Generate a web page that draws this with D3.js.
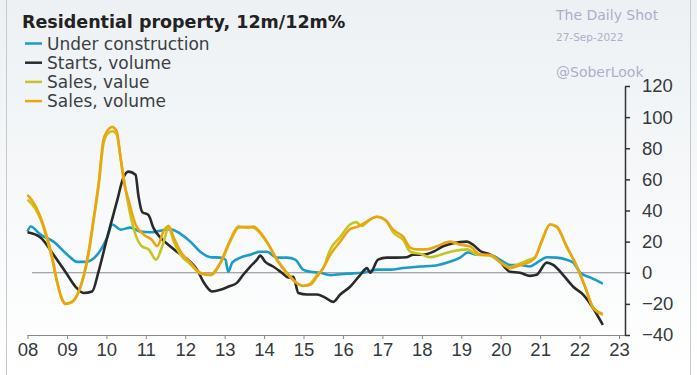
<!DOCTYPE html>
<html>
<head>
<meta charset="utf-8">
<script src="https://cdn.jsdelivr.net/npm/d3@7"></script>
<style>
  body { margin: 0; background: #fff; }
  svg { display: block; font-family: "DejaVu Sans", sans-serif; }
</style>
</head>
<body>
<div id="chart"></div>
<script>
// x ticks (years) and y ticks
var years = d3.range(2008, 2024);
var yTicks = [-40, -20, 0, 20, 40, 60, 80, 100, 120];

// [decimal year, % y/y]
var underConstruction = [
  [2008.0, 26.5], [2008.08, 29.7], [2008.33, 24.5], [2008.66, 20], [2009.01, 11.6],
  [2009.26, 7], [2009.47, 7], [2009.77, 11.6], [2010.02, 22.6], [2010.15, 31],
  [2010.36, 27.7], [2010.61, 29], [2010.86, 26.5], [2011.12, 26], [2011.37, 27],
  [2011.62, 28], [2011.88, 25], [2012.13, 20], [2012.38, 13.5], [2012.64, 10],
  [2012.89, 9.7], [2013.02, 8.4], [2013.09, 0.6], [2013.19, 6.5], [2013.4, 9.7],
  [2013.65, 11.6], [2013.9, 13.5], [2014.07, 13.5], [2014.33, 9.7], [2014.58, 9.7],
  [2014.79, 8.4], [2014.99, 2], [2015.17, 0.6], [2015.42, 0], [2015.68, -1.5],
  [2016.1, -0.6], [2016.51, 0], [2016.86, 2], [2017.2, 2], [2017.53, 3],
  [2017.96, 4], [2018.29, 4.5], [2018.63, 6.5], [2018.97, 9.7], [2019.17, 13],
  [2019.39, 11.6], [2019.73, 11.6], [2019.98, 8.4], [2020.24, 5], [2020.49, 5],
  [2020.74, 4], [2020.95, 7], [2021.17, 10], [2021.42, 9.7], [2021.67, 8.4],
  [2021.84, 6.5], [2022.02, 0], [2022.27, -3], [2022.59, -7]
];

var startsVolume = [
  [2008.0, 26], [2008.33, 22.6], [2008.66, 11.6], [2009.01, -1.3], [2009.22, -9],
  [2009.42, -13], [2009.64, -12], [2009.8, 0.6], [2010.02, 22.6], [2010.27, 46],
  [2010.43, 61], [2010.56, 65], [2010.74, 63], [2010.81, 50], [2010.91, 39],
  [2011.07, 37], [2011.19, 29], [2011.37, 22.6], [2011.57, 18], [2011.79, 13.5],
  [2012.13, 7], [2012.3, 2], [2012.46, -5.8], [2012.68, -12], [2012.89, -11],
  [2013.09, -9], [2013.31, -6.5], [2013.47, -1.3], [2013.65, 4], [2013.82, 8.4],
  [2013.9, 11], [2014.03, 7], [2014.23, 4], [2014.45, 0], [2014.61, -3],
  [2014.74, -2.6], [2014.87, -13], [2015.09, -14], [2015.34, -14], [2015.55, -16],
  [2015.75, -18.7], [2015.93, -14], [2016.18, -9], [2016.44, -1.3], [2016.61, 3],
  [2016.69, 0], [2016.89, 8.4], [2017.11, 9.7], [2017.37, 9.7], [2017.62, 10],
  [2017.78, 11.6], [2018.03, 11.6], [2018.29, 13.5], [2018.54, 17], [2018.79, 19],
  [2019.14, 20], [2019.3, 18], [2019.48, 14], [2019.73, 11.6], [2019.98, 7],
  [2020.24, 0.6], [2020.49, 0], [2020.74, -2], [2020.91, -1.3], [2021.17, 6.5],
  [2021.33, 5], [2021.58, -1.3], [2021.84, -9], [2022.09, -14], [2022.34, -22.6],
  [2022.59, -33.5]
];

var salesValue = [
  [2008.0, 47], [2008.2, 41], [2008.37, 32], [2008.5, 21], [2008.63, 8],
  [2008.75, -6], [2008.88, -17], [2008.96, -20], [2009.13, -19], [2009.3, -12],
  [2009.43, -2], [2009.55, 12], [2009.68, 34], [2009.81, 57], [2009.92, 82],
  [2010.02, 89], [2010.15, 91], [2010.26, 89], [2010.36, 74], [2010.44, 61],
  [2010.61, 37], [2010.74, 24.5], [2010.9, 17], [2011.08, 14.8], [2011.26, 8.4],
  [2011.43, 18], [2011.58, 28.8], [2011.71, 20], [2011.88, 11.6], [2012.13, 5.5],
  [2012.38, -0.5], [2012.64, -1.5], [2012.89, 6], [2013.14, 20], [2013.35, 29],
  [2013.57, 29.5], [2013.73, 29], [2013.9, 25.5], [2014.07, 19.5], [2014.33, 8],
  [2014.58, -0.5], [2014.79, -6], [2014.99, -8.5], [2015.17, -7], [2015.34, -1.5],
  [2015.5, 3], [2015.68, 15], [2015.93, 23], [2016.18, 31], [2016.33, 32.5],
  [2016.48, 30], [2016.63, 33], [2016.86, 36], [2017.11, 33], [2017.27, 26],
  [2017.53, 21], [2017.71, 13.5], [2017.97, 12], [2018.22, 10], [2018.48, 11.6],
  [2018.81, 14], [2019.15, 15], [2019.4, 11.6], [2019.73, 11], [2019.98, 7],
  [2020.24, 3.5], [2020.49, 6], [2020.74, 8.5], [2020.87, 10], [2021.04, 20.5],
  [2021.25, 31], [2021.42, 29.5], [2021.67, 17], [2021.93, 4], [2022.14, -9],
  [2022.34, -22], [2022.59, -27]
];

var salesVolume = [
  [2008.0, 50], [2008.2, 43], [2008.37, 33], [2008.5, 22.6], [2008.63, 9.7],
  [2008.75, -5.6], [2008.88, -17.4], [2008.96, -20], [2009.13, -18.5], [2009.3, -12],
  [2009.43, -1.3], [2009.55, 13.7], [2009.68, 35.5], [2009.81, 59], [2009.92, 84.7],
  [2010.02, 91], [2010.15, 93.7], [2010.26, 91], [2010.36, 74], [2010.44, 59],
  [2010.57, 46], [2010.74, 31], [2010.95, 24.5], [2011.16, 21], [2011.29, 17],
  [2011.45, 26.6], [2011.58, 30], [2011.71, 22.4], [2011.88, 13.7], [2012.13, 6.5],
  [2012.38, 0], [2012.64, -1.3], [2012.89, 6.5], [2013.14, 21], [2013.35, 29.7],
  [2013.57, 29], [2013.73, 29.7], [2013.9, 26], [2014.07, 20], [2014.33, 8.4],
  [2014.58, 0], [2014.79, -5.8], [2014.99, -8.4], [2015.17, -7.7], [2015.34, -2.6],
  [2015.5, 3], [2015.68, 11.6], [2015.93, 20], [2016.18, 28], [2016.39, 29.7],
  [2016.61, 33], [2016.86, 36], [2017.07, 34], [2017.27, 27.7], [2017.53, 23],
  [2017.71, 16], [2017.87, 15], [2018.13, 15], [2018.38, 17], [2018.72, 20],
  [2018.97, 18], [2019.22, 17], [2019.48, 11.6], [2019.73, 11.6], [2019.98, 7],
  [2020.24, 3], [2020.49, 5], [2020.74, 7], [2020.87, 9.7], [2021.04, 20],
  [2021.25, 31], [2021.42, 29.7], [2021.67, 17], [2021.93, 4], [2022.14, -9],
  [2022.34, -22.6], [2022.59, -26.5]
];

var seriesNames = ["Under construction", "Starts, volume", "Sales, value", "Sales, volume"];
var seriesColors = ["#1b9cc8", "#2a2a2a", "#c4c722", "#eba50f"];
var seriesData = [underConstruction, startsVolume, salesValue, salesVolume];

var W = 697, H = 375;
var svg = d3.select("#chart").append("svg").attr("width", W).attr("height", H);

// background gradient + frame
var defs = svg.append("defs");
var grad = defs.append("linearGradient").attr("id", "bg").attr("x1", 0).attr("y1", 0).attr("x2", 0).attr("y2", 1);
grad.append("stop").attr("offset", "0%").attr("stop-color", "#edf1f4");
grad.append("stop").attr("offset", "100%").attr("stop-color", "#ffffff");
svg.append("rect").attr("width", W).attr("height", H).attr("fill", "url(#bg)");
svg.append("line").attr("x1", 6.5).attr("x2", 6.5).attr("y1", 0).attr("y2", H).attr("stroke", "#c8c8c8");
svg.append("line").attr("x1", 690.5).attr("x2", 690.5).attr("y1", 0).attr("y2", H).attr("stroke", "#c8c8c8");

var x = d3.scaleLinear().domain([2008, 2023]).range([27.5, 619]);
var y = d3.scaleLinear().domain([-40, 120]).range([335, 86]);

// zero line
svg.append("line")
  .attr("x1", 32).attr("x2", 625)
  .attr("y1", y(0)).attr("y2", y(0))
  .attr("stroke", "#8a8a8a").attr("stroke-width", 1);

// x axis
var xAxis = d3.axisBottom(x).tickValues(years).tickSizeOuter(0).tickSize(4)
  .tickFormat(function (d) { return String(d).slice(2); });
var gx = svg.append("g").attr("transform", "translate(0," + 335 + ")").call(xAxis);
gx.select(".domain").attr("stroke", "#888").attr("d", "M27.5,0.5H625");
gx.selectAll(".tick line").attr("stroke", "#888");
gx.selectAll("text").attr("fill", "#353a3d").style("font-size", "18.5px").attr("y", 8);

// y axis on the right
var yAxis = d3.axisRight(y).tickValues(yTicks).tickSize(5).tickSizeOuter(0);
var gy = svg.append("g").attr("transform", "translate(625,0)").call(yAxis);
gy.select(".domain").attr("stroke", "#333").attr("stroke-width", 1.5);
gy.selectAll(".tick line").attr("stroke", "#333").attr("stroke-width", 1.5);
gy.selectAll("text").attr("fill", "#353a3d").style("font-size", "18.5px").attr("x", 17);

// lines
var line = d3.line()
  .x(function (d) { return x(d[0]); })
  .y(function (d) { return y(d[1]); })
  .curve(d3.curveMonotoneX);

seriesData.forEach(function (s, i) {
  svg.append("path")
    .datum(s)
    .attr("fill", "none")
    .attr("stroke", seriesColors[i])
    .attr("stroke-width", 2.6)
    .attr("stroke-linejoin", "round")
    .attr("d", line);
});

// title + legend
svg.append("text").attr("x", 22).attr("y", 28)
  .attr("fill", "#222").style("font-size", "17.5px").style("font-weight", "bold")
  .text("Residential property, 12m/12m%");

var legend = svg.append("g");
seriesNames.forEach(function (n, i) {
  var ly = 43.5 + i * 19.2;
  legend.append("line").attr("x1", 25).attr("x2", 42).attr("y1", ly).attr("y2", ly)
    .attr("stroke", seriesColors[i]).attr("stroke-width", 2.5);
  legend.append("text").attr("x", 47).attr("y", ly + 6)
    .attr("fill", "#3a3f42").style("font-size", "17px").text(n);
});

// watermark
var wm = svg.append("g").attr("fill", "#aeaecb");
wm.append("text").attr("x", 556).attr("y", 20).style("font-size", "14px").text("The Daily Shot");
wm.append("text").attr("x", 556).attr("y", 41).style("font-size", "10.5px").text("27-Sep-2022");
wm.append("text").attr("x", 556).attr("y", 77).style("font-size", "14px").text("@SoberLook");
</script>
</body>
</html>
